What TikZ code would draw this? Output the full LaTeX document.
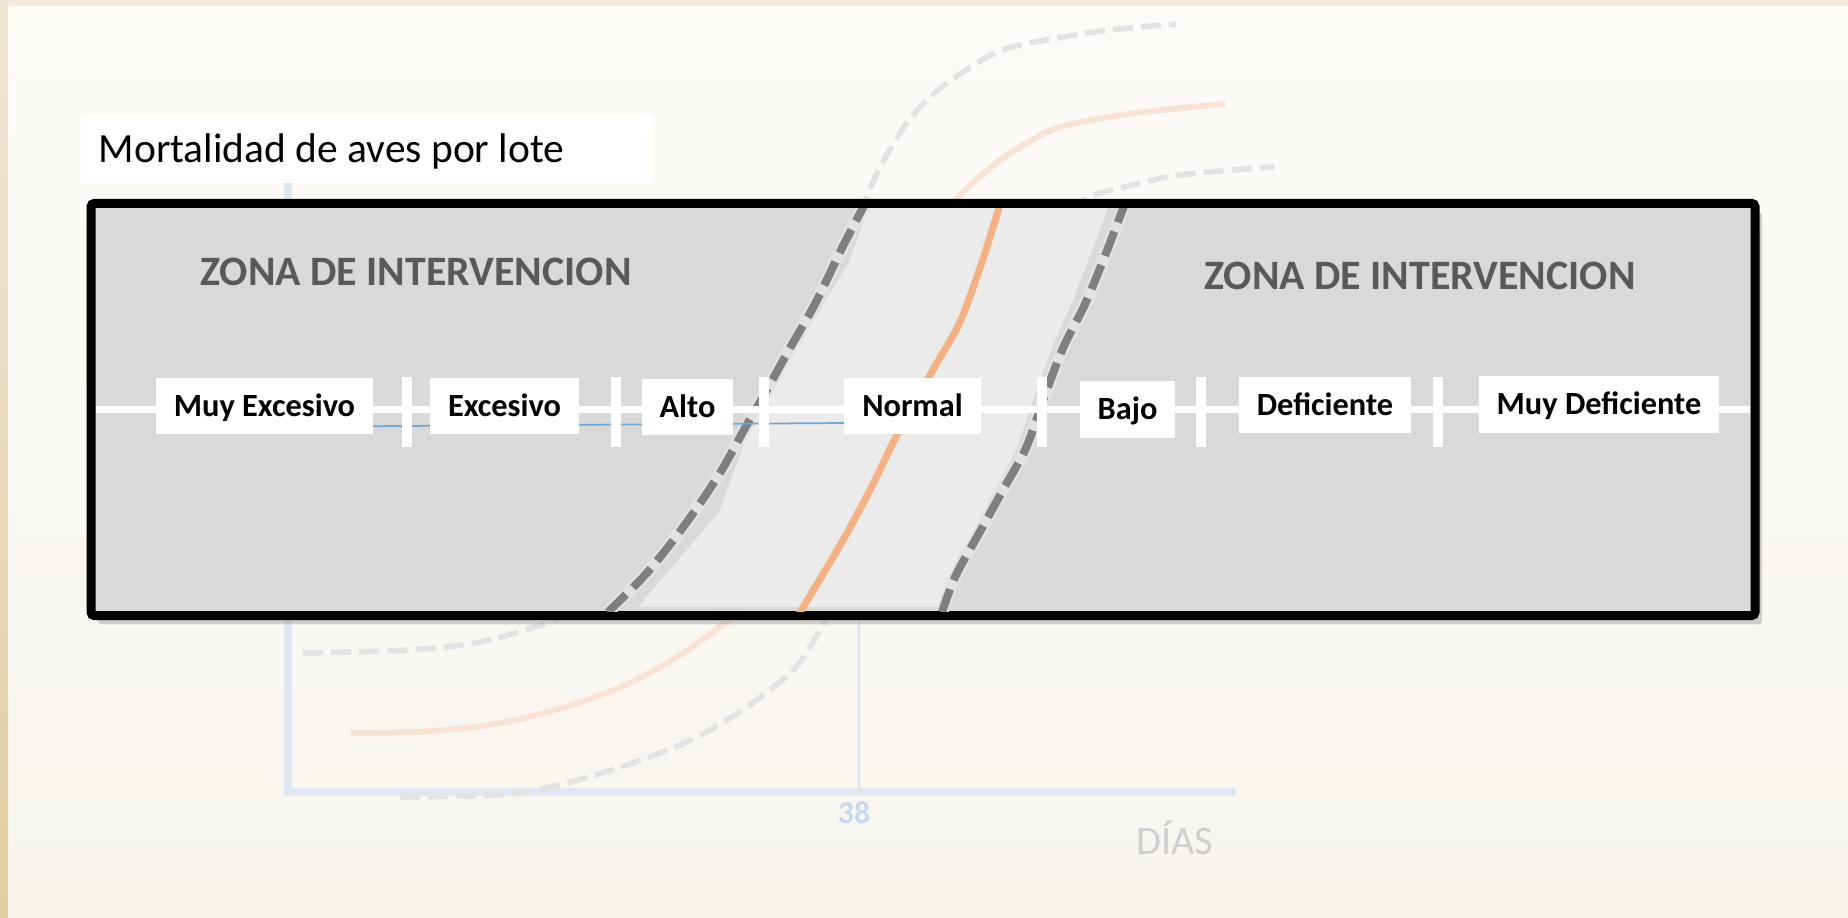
\documentclass[tikz,border=0pt]{standalone}
\usepackage{fontspec}
\setmainfont{Carlito}
\usepackage{xcolor}
\usepackage{tikz}
\usetikzlibrary{shadows}

\definecolor{fondoarriba}{HTML}{FCFBF8}
\definecolor{fondoabajo}{HTML}{F8F5EF}
\definecolor{bordearriba}{HTML}{F0E6D5}
\definecolor{bordeabajo}{HTML}{E2CEA5}
\definecolor{ejeazul}{HTML}{DEE8F4}
\definecolor{rejilla}{HTML}{DCE5EF}
\definecolor{numazul}{HTML}{C6D9F0}
\definecolor{diasgris}{HTML}{CFCFCF}
\definecolor{grisclaro}{HTML}{E3E3E3}
\definecolor{naranjaclaro}{HTML}{FBE3D3}
\definecolor{fondozona}{HTML}{D9D9D9}
\definecolor{banda}{HTML}{EBEBEB}
\definecolor{halo}{HTML}{E2E2E2}
\definecolor{grisoscuro}{HTML}{7F7F7F}
\definecolor{naranja}{HTML}{F4B183}
\definecolor{textozona}{HTML}{595959}
\definecolor{azuldato}{HTML}{6FA8DC}

\begin{document}
\begin{tikzpicture}[x=0.01cm, y=-0.01cm]
		\tikzstyle{titulo} = [fill=white, anchor=west, inner xsep=0.18cm, inner ysep=0pt, minimum height=0.67cm, text height=7.6pt, text depth=0pt, font=\fontsize{11.8}{14}\selectfont]
		\tikzstyle{caja} = [draw=black, line width=2.56pt, fill=fondozona, minimum width=16.63cm, minimum height=4.12cm, inner sep=0pt, rounded corners=1pt, drop shadow={shadow xshift=2pt, shadow yshift=-2.5pt, opacity=0.35}]
		\tikzstyle{nivel} = [fill=white, inner xsep=0.18cm, inner ysep=0pt, minimum height=0.56cm, text height=5.9pt, text depth=0pt, font=\fontsize{9.2}{11}\selectfont\bfseries]
		\tikzstyle{zona} = [inner sep=0pt, text=textozona, text height=7.7pt, text depth=0pt, font=\fontsize{11.9}{14}\selectfont\bfseries]
		\tikzstyle{numero} = [inner sep=0pt, text=numazul, text height=5.4pt, text depth=0pt, font=\fontsize{9}{11}\selectfont\bfseries]
		\tikzstyle{ejetexto} = [inner sep=0pt, text=diasgris, text height=6.9pt, text depth=0pt, font=\fontsize{11.5}{14}\selectfont]
		\tikzstyle{marca} = [white, line width=2.7pt]
		\tikzstyle{cota} = [grisoscuro, line width=2.3pt, dash pattern=on 7.4pt off 2.8pt]
		\tikzstyle{cotatenue} = [grisclaro, line width=1.6pt, dash pattern=on 5.7pt off 2.3pt]
		\tikzstyle{media} = [naranja, line width=2pt]
		\tikzstyle{mediatenue} = [naranjaclaro, line width=1.7pt]
		
		\useasboundingbox (0,0) rectangle (1848,918);
		\shade[top color=fondoarriba, bottom color=fondoabajo] (0,0) rectangle (1848,918);
		\shade[top color=bordearriba, bottom color=bordeabajo] (0,0) rectangle (8,918);
		\fill[bordearriba!80!fondoarriba] (8,0) rectangle (1848,6);
		
		% grafico de fondo
		\draw[ejeazul, line width=2.3pt] (288,150) -- (288,792) -- (1235,792);
		\draw[rejilla, line width=0.3pt] (859,612) -- (859,788);
		\node[numero] 	at (854, 814) 	(dia38) 	{38};
		\node[ejetexto] at (1175, 842) 	(dias) 		{DÍAS};
		
		\draw[cotatenue] plot[smooth] coordinates {(303,653) (410,650) (480,642) (544,624) (590,606)};
		\draw[cotatenue] plot[smooth] coordinates {(860,215) (877,173) (904,127) (930,97) (966,70) (1002,50) (1046,40) (1110,30) (1176,24)};
		\draw[mediatenue] plot[smooth] coordinates {(351,733) (410,732) (467,728) (516,720) (565,707) (621,687) (677,657) (726,622) (745,600)};
		\draw[mediatenue] plot[smooth] coordinates {(945,215) (957,198) (984,173) (1015,150) (1060,127) (1136,113) (1225,104)};
		\draw[cotatenue] plot[smooth] coordinates {(400,797) (495,795) (551,787) (621,767) (691,740) (747,707) (796,667) (824,622) (832,600)};
		\draw[cotatenue] plot[smooth] coordinates {(1075,215) (1087,198) (1113,190) (1180,175) (1274,167)};
		
		\node[titulo] 	at (80, 149.5) 	(titulo) 	{\makebox[5.35cm][l]{Mortalidad de aves por lote}};
		
		\node[caja] 	at (923, 409.5) 	(marco) 	{};
		
		\begin{scope}
			\clip (96,208) rectangle (1750,611);
			\fill[banda] (872,198) -- (1112,198) -- (1093,248) -- (1072,302) -- (1052,348) -- (1035,395) -- (1017,448) -- (996,488) -- (975,528) -- (950,575) -- (940,607) -- (638,607) -- (719,512) -- (756,412) -- (797,348) -- (849,262) -- cycle;
			\draw[halo, line width=3.6pt] plot[smooth] coordinates {(868,198) (842,248) (816,302) (790,348) (764,395) (745,428) (723,468) (701,502) (675,538) (645,575) (608,612)};
			\draw[halo, line width=3.6pt] plot[smooth] coordinates {(1127,198) (1108,248) (1086,302) (1063,348) (1045,395) (1026,448) (1004,488) (982,528) (956,575) (942,612)};
			\draw[cota] plot[smooth] coordinates {(868,198) (842,248) (816,302) (790,348) (764,395) (745,428) (723,468) (701,502) (675,538) (645,575) (608,612)};
			\draw[cota] plot[smooth] coordinates {(1127,198) (1108,248) (1086,302) (1063,348) (1045,395) (1026,448) (1004,488) (982,528) (956,575) (942,612)};
			\draw[media] plot[smooth] coordinates {(1002,198) (982,262) (960,322) (934,368) (897,435) (871,488) (842,542) (799,614)};
			\draw[azuldato, line width=0.5pt] (251,433) -- (254,427) -- (845,423);
		\end{scope}
		
		\draw[white, line width=1.85pt] (96,409.5) -- (1750,409.5);
		\foreach \x in {407, 616, 764, 1042, 1201, 1438}
			\draw[marca] (\x,377) -- (\x,447);
		
		\node[nivel] 	at (264.5, 406) 	(muyexc) 	{Muy Excesivo};
		\node[nivel] 	at (504.5, 406) 	(exc) 		{Excesivo};
		\node[nivel] 	at (687.5, 407) 	(alto) 		{Alto};
		\node[nivel] 	at (912.5, 406) 	(normal) 	{Normal};
		\node[nivel] 	at (1127.5, 409.5) 	(bajo) 		{Bajo};
		\node[nivel] 	at (1325, 405) 		(def) 		{Deficiente};
		\node[nivel] 	at (1599, 404.5) 	(muydef) 	{Muy Deficiente};
		
		\node[zona] 	at (416, 272) 		(zonaizq) 	{ZONA DE INTERVENCION};
		\node[zona] 	at (1420, 276) 		(zonader) 	{ZONA DE INTERVENCION};
\end{tikzpicture}
\end{document}
